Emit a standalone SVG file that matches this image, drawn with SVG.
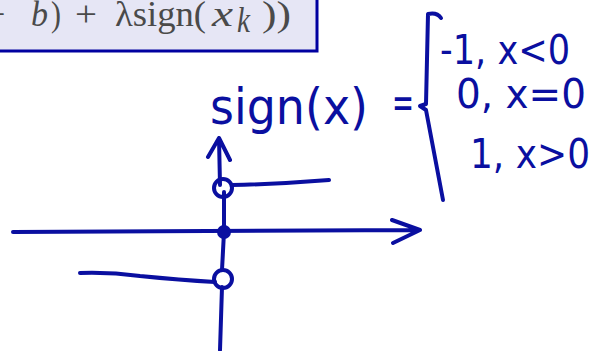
<svg xmlns="http://www.w3.org/2000/svg" width="604" height="351" viewBox="0 0 604 351">
<style>
.ink{fill:none;stroke:#0a0fa0;stroke-width:4;stroke-linecap:round;stroke-linejoin:round}
.hand{font-family:"DejaVu Sans",sans-serif;fill:#0a0fa0;}
.math{font-family:"Liberation Serif","DejaVu Serif",serif;fill:#4a4a4a;font-size:36px}
.it{font-style:italic}
</style>
<rect x="-10" y="-10" width="327" height="61" fill="#e6e6f5" stroke="#0000a0" stroke-width="3"/>
<g id="equation">
<text class="math" x="-12" y="26" textLength="17" lengthAdjust="spacingAndGlyphs">−</text>
<text class="math it" x="31" y="26" textLength="17" lengthAdjust="spacingAndGlyphs">b</text>
<text class="math" x="51" y="26" textLength="10" lengthAdjust="spacingAndGlyphs">)</text>
<text class="math" x="75" y="26" textLength="22" lengthAdjust="spacingAndGlyphs">+</text>
<text class="math" x="115" y="26" textLength="91" lengthAdjust="spacingAndGlyphs">λsign(</text>
<text class="math it" x="212" y="26" textLength="21" lengthAdjust="spacingAndGlyphs">x</text>
<text class="math it" x="237" y="32" font-size="24" textLength="13" lengthAdjust="spacingAndGlyphs">k</text>
<text class="math" x="262" y="26" textLength="29" lengthAdjust="spacingAndGlyphs">))</text>
</g>
<g id="axes">
<path class="ink" d="M13,232 L420,230 M392,220 L420,230 L393,243"/>
<path class="ink" d="M219,138 L220,185 M224,192 L224,232 L222,270 M222,287 L220,350 M208,157 L219,138 L230,160"/>
</g>
<g id="step">
<circle class="ink" cx="223" cy="188" r="9"/>
<path class="ink" d="M232,185 Q280,184 329,180"/>
<circle cx="224" cy="232" r="7" fill="#0a0fa0"/>
<circle class="ink" cx="223" cy="279" r="9"/>
<path class="ink" d="M80,273 Q110,272 140,276 Q180,280 215,282"/>
</g>
<g id="formula">
<text class="hand" x="210" y="124" font-size="50" textLength="158" lengthAdjust="spacingAndGlyphs">sign(x)</text>
<text class="hand" x="392" y="118" font-size="44" textLength="22" lengthAdjust="spacingAndGlyphs">=</text>
<path class="ink" d="M441,18 Q437,12 428,14 L426,104 L420,106 L426,110 L443,200"/>
<text class="hand" x="440" y="64" font-size="40" textLength="130" lengthAdjust="spacingAndGlyphs">-1, x&lt;0</text>
<text class="hand" x="456" y="108" font-size="40" textLength="130" lengthAdjust="spacingAndGlyphs">0, x=0</text>
<text class="hand" x="470" y="168" font-size="40" textLength="120" lengthAdjust="spacingAndGlyphs">1, x&gt;0</text>
</g>
</svg>
